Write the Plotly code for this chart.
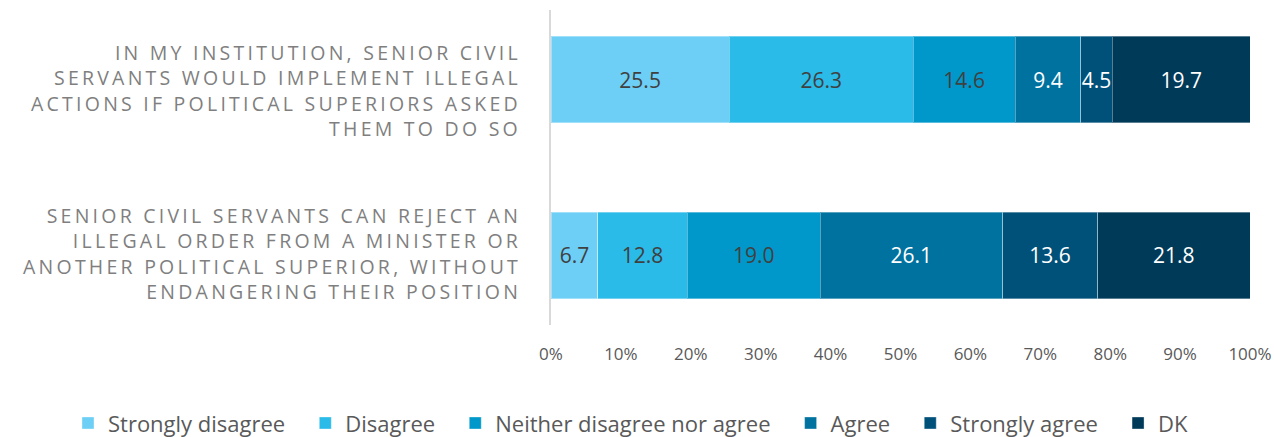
import plotly.graph_objects as go

# Survey statements (top to bottom)
statements = [
    "IN MY INSTITUTION, SENIOR CIVIL|SERVANTS WOULD IMPLEMENT ILLEGAL|ACTIONS IF POLITICAL SUPERIORS ASKED|THEM TO DO SO",
    "SENIOR CIVIL SERVANTS CAN REJECT AN|ILLEGAL ORDER FROM A MINISTER OR|ANOTHER POLITICAL SUPERIOR, WITHOUT|ENDANGERING THEIR POSITION",
]

# Response categories and shares (%) per statement
responses = ["Strongly disagree", "Disagree", "Neither disagree nor agree",
             "Agree", "Strongly agree", "DK"]
strongly_disagree = [25.5, 6.7]
disagree = [26.3, 12.8]
neither = [14.6, 19.0]
agree = [9.4, 26.1]
strongly_agree = [4.5, 13.6]
dk = [19.7, 21.8]

x_ticks = [0, 10, 20, 30, 40, 50, 60, 70, 80, 90, 100]

series = [strongly_disagree, disagree, neither, agree, strongly_agree, dk]
colors = ["#6DCFF6", "#2ABBE9", "#0098CA", "#0072A0", "#00517A", "#003A59"]
text_colors = ["#404040", "#404040", "#404040", "#FFFFFF", "#FFFFFF", "#FFFFFF"]

# vertical nudge (px) of each statement label relative to its bar
label_shift = [-11, 2]


def tracked(label):
    """Uppercase label with widened letter spacing, one line per '|' segment."""
    sep = "\u2009"
    return "<br>".join(sep.join(list(line)) for line in label.split("|"))


cats = [f"s{i}" for i in range(len(statements))]

fig = go.Figure()
for i, (name, vals, col, tcol) in enumerate(zip(responses, series, colors, text_colors)):
    # a little trailing room after each legend entry
    legend_name = name if i == len(responses) - 1 else name + "\u00a0\u00a0\u2009"
    fig.add_trace(go.Bar(
        name=legend_name,
        y=cats,
        x=vals,
        orientation="h",
        width=0.494,
        marker=dict(color=col, line=dict(color="rgba(255,255,255,0.35)", width=1)),
        text=[f"{v:.1f}" for v in vals],
        textposition="inside",
        insidetextanchor="middle",
        textangle=0,
        constraintext="none",
        textfont=dict(family="Open Sans", size=21, color=tcol),
        cliponaxis=False,
        hoverinfo="skip",
    ))

# statement labels to the left of the axis
for cat, text, dy in zip(cats, statements, label_shift):
    fig.add_annotation(
        x=0, xref="paper", y=cat, yref="y",
        xanchor="right", yanchor="middle", align="right",
        xshift=-31, yshift=dy,
        text=tracked(text),
        showarrow=False,
        font=dict(family="Open Sans", size=19.5, color="#7F7F7F"),
    )

fig.update_layout(
    barmode="stack",
    width=1274,
    height=437,
    margin=dict(l=551, r=24, t=10, b=112, autoexpand=False),
    paper_bgcolor="white",
    plot_bgcolor="white",
    font=dict(family="Open Sans", color="#595959"),
    showlegend=True,
    legend=dict(
        orientation="h",
        x=-0.691, xanchor="left",
        y=-0.245, yanchor="top",
        font=dict(family="Open Sans", size=22, color="#595959"),
        traceorder="normal",
        itemclick=False,
    ),
    xaxis=dict(
        range=[0, 100],
        tickvals=x_ticks,
        ticktext=[f"{t}%" for t in x_ticks],
        tickfont=dict(family="Open Sans", size=17, color="#595959"),
        showgrid=False,
        zeroline=False,
        showline=False,
        ticklabelstandoff=17,
        automargin=False,
        fixedrange=True,
    ),
    yaxis=dict(
        type="category",
        categoryorder="array",
        categoryarray=cats,
        range=[1.395, -0.395],
        showline=True,
        linecolor="#D9D9D9",
        linewidth=2,
        showgrid=False,
        zeroline=False,
        showticklabels=False,
        automargin=False,
        fixedrange=True,
    ),
)

fig.write_html("out.html")
